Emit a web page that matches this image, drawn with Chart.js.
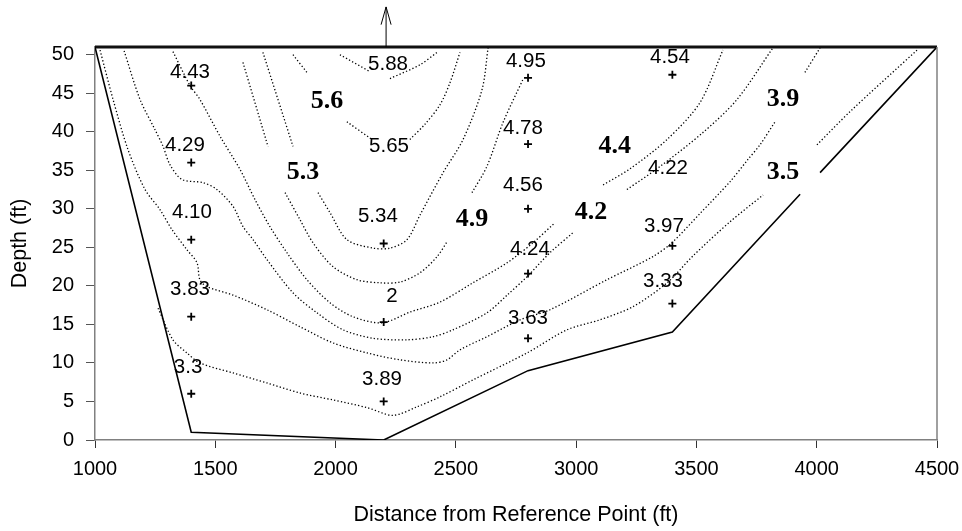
<!DOCTYPE html>
<html><head><meta charset="utf-8">
<script src="https://cdn.jsdelivr.net/npm/chart.js@4"></script>
<style>html,body{margin:0;padding:0;background:#fff}#wrap{width:962px;height:531px}</style>
</head><body><div id="wrap"><canvas id="c" width="962" height="531"></canvas></div>
<script>
const xTicks = [1000,1500,2000,2500,3000,3500,4000,4500];
const yTicks = [0,5,10,15,20,25,30,35,40,45,50];

// channel cross-section boundary (distance, depth)
const boundary = [[1000,51],[1400,1],[2200,0],[2800,9],[3400,14],[3931,31.9],null,[4014,34.7],[4500,51]];
const surface = [[1000,51],[4500,51]];

// contour lines (distance, depth); null = break under a label
const contourA = [[1021,50.6],[1075,44.2],[1137,37.7],[1208,32.5],[1270,29.9],[1320,27.3],[1382,24.7],[1424,23.0],[1436,20.8],[1466,19.9],[1574,18.8],[1715,16.9],[1852,14.7],[1989,12.6],[2131,11.3],[2268,10.4],[2405,10.0],[2463,10.4],[2517,11.7],[2629,13.4],[2767,15.6],[2891,16.9],[3128,20.8],[3319,23.8],[3398,25.6],[3515,29.4],[3639,33.5],[3714,36.4],[3764,38.3],[3827,41.3],null,[3951,47.7],[4014,50.9]];
const contourB = [[1121,50.5],[1187,44.2],[1249,40.3],[1283,38.1],[1312,35.7],[1362,33.8],[1449,33.4],[1507,32.5],[1574,30.3],[1615,27.7],[1657,26.0],[1715,23.4],[1823,19.1],[1923,16.5],[2031,14.3],[2156,13.2],[2297,13.0],[2405,13.4],[2488,14.3],[2629,16.5],[2713,18.8],[2796,21.2],[2891,24.3],[2987,26.9],null,[3211,32.5],[3349,35.5],[3527,39.9],[3669,44.2],[3818,50.9]];
const contourC = [[1324,50.4],[1395,46.0],[1436,44.2],[1520,39.4],[1603,35.1],[1665,31.2],[1727,27.7],[1798,24.3],[1881,20.8],[1977,17.8],[2072,16.0],[2193,15.2],[2309,16.6],[2434,17.9],[2571,20.4],[2713,23.0],[2821,25.6],[2912,28.2],null,[3112,33.1],[3224,35.2],[3378,39.0],[3515,43.8],[3610,50.6]];
const contourE = [[1615,49.0],[1719,38.1],null,[1790,32.1],[1852,28.6],[1906,25.6],[1989,22.5],[2089,20.8],[2185,20.4],[2268,20.5],[2351,21.7],[2422,23.8],[2463,25.7],null,[2567,32.1],[2629,35.5],[2696,41.2],[2779,46.8]];
const contourF = [[1698,50.3],[1823,38.1],null,[1927,32.1],[1977,29.5],[2047,26.0],[2156,24.9],[2226,24.9],[2297,26.0],[2351,29.2],[2447,34.7],[2530,39.0],[2609,45.5],[2634,50.9]];
const contourG = [[1823,50.0],[1881,47.7],null,[2047,41.3],[2151,39.0],null,[2309,39.0],[2372,41.0],[2434,43.5],[2476,46.4],[2517,50.3]];
const contourH = [[2018,50.0],[2143,47.8],null,[2226,46.9],[2351,48.7],[2422,50.3]];
const contourL = [[1262,17.1],[1324,13.0],[1382,11.3],[1436,10.0],[1574,8.7],[1715,7.4],[1852,6.1],[1989,5.2],[2131,4.2],[2239,3.2],[2338,4.3],[2434,5.6],[2571,7.8],[2796,11.3],[2962,14.3],[3099,15.6],[3236,17.3],[3378,20.4],[3486,23.9],[3639,28.3],[3777,31.8],null,[4001,38.3],[4138,42.6],[4417,50.6]];

// sampling points
const sampleX = [1400,1400,1400,1400,1400,2200,2200,2200,2800,2800,2800,2800,2800,3400,3400,3400];
const sampleY = [46,36,26,16,6,25.5,15.3,5,47,38.4,30,21.6,13.2,47.4,25.2,17.7];

// measured value labels
const valueLabelText = ['4.43','4.29','4.10','3.83','3.3','5.88','5.65','5.34','2','3.89','4.95','4.78','4.56','4.24','3.63','4.54','4.22','3.97','3.33'];
const valueLabelX = [1395,1374,1403,1395,1387,2218,2222,2176,2234,2193,2791,2779,2779,2808,2800,3390,3382,3365,3361];
const valueLabelY = [47.7,38.3,29.6,19.5,9.4,48.8,38.1,29.0,18.6,7.9,49.1,40.5,33.0,24.7,15.8,49.7,35.2,27.7,20.6];

// contour level labels
const levelText = ['5.6','5.3','4.9','4.2','4.4','3.9','3.5'];
const levelX = [1964,1865,2567,3062,3161,3860,3860];
const levelY = [44.0,34.8,28.6,29.6,38.1,44.2,34.8];

// arrow (reference point) location
const arrowX = 2210, arrowBase = 51, arrowTip = 56.2, arrowHead = 53.9;

const sans = '"Liberation Sans", Arial, sans-serif';
const serif = '"Liberation Serif", "Times New Roman", serif';

const toPts = arr => { let lx = 0; return arr.map(p => { if (p) { lx = p[0]; return {x:p[0], y:p[1]}; } return {x:lx, y:null}; }); };

const dotted = (arr) => ({data: toPts(arr), showLine: true, pointRadius: 0, borderColor: '#000', borderWidth: 1.3, borderDash: [1.3, 2.2], tension: 0.3, spanGaps: false, fill: false});

const datasets = [
  dotted(contourA), dotted(contourB), dotted(contourC), dotted(contourE), dotted(contourF), dotted(contourG), dotted(contourH), dotted(contourL),
  {data: toPts(boundary), showLine: true, pointRadius: 0, borderColor: '#000', borderWidth: 1.6, tension: 0, spanGaps: false},
  {data: toPts(surface), showLine: true, pointRadius: 0, borderColor: '#111', borderWidth: 3, clip: false},
  {data: sampleX.map((x,i)=>({x, y: sampleY[i]})), showLine: false, pointStyle: 'cross', pointRadius: 4, borderColor: '#000', borderWidth: 1.8}
];

const annot = {
  id: 'annot',
  afterDatasetsDraw(chart) {
    const {ctx, scales: {x, y}, chartArea} = chart;
    ctx.save();
    ctx.strokeStyle = '#808080'; ctx.lineWidth = 1.5;
    ctx.beginPath(); ctx.moveTo(chartArea.right, chartArea.top); ctx.lineTo(chartArea.right, chartArea.bottom); ctx.stroke();
    const ax = x.getPixelForValue(arrowX);
    const yb = y.getPixelForValue(arrowBase), yt = y.getPixelForValue(arrowTip), yh = y.getPixelForValue(arrowHead);
    ctx.strokeStyle = '#000'; ctx.lineWidth = 1;
    ctx.beginPath(); ctx.moveTo(ax, yb); ctx.lineTo(ax, yt); ctx.moveTo(ax-5, yh); ctx.lineTo(ax, yt); ctx.lineTo(ax+5, yh); ctx.stroke();
    ctx.fillStyle = '#000'; ctx.textAlign = 'center'; ctx.textBaseline = 'middle';
    ctx.font = '20.5px ' + sans;
    valueLabelText.forEach((t,i) => ctx.fillText(t, x.getPixelForValue(valueLabelX[i]), y.getPixelForValue(valueLabelY[i])));
    ctx.font = 'bold 26px ' + serif;
    levelText.forEach((t,i) => ctx.fillText(t, x.getPixelForValue(levelX[i]), y.getPixelForValue(levelY[i])));
    ctx.restore();
  }
};

new Chart(document.getElementById('c'), {
  type: 'scatter',
  data: {datasets},
  options: {
    responsive: false, animation: false, devicePixelRatio: 1,
    layout: {padding: {top: 47, right: 25, left: 0, bottom: 0}},
    plugins: {legend: {display: false}, tooltip: {enabled: false}},
    scales: {
      x: {
        type: 'linear', min: 1000, max: 4500,
        afterBuildTicks: s => { s.ticks = xTicks.map(v => ({value: v})); },
        afterFit: s => { s.height = 91; s.paddingLeft = 0; s.paddingRight = 0; },
        ticks: {color: '#000', font: {family: sans, size: 20}, padding: 9, maxRotation: 0, callback: v => String(v)},
        grid: {display: true, drawOnChartArea: false, drawTicks: true, tickLength: 8, tickColor: '#333', tickWidth: 1},
        border: {display: true, color: '#808080', width: 1.5},
        title: {display: true, text: 'Distance from Reference Point (ft)', color: '#000', font: {family: sans, size: 21.5}, padding: {top: 0, bottom: 3}}
      },
      y: {
        type: 'linear', min: 0, max: 51,
        afterBuildTicks: s => { s.ticks = yTicks.map(v => ({value: v})); },
        afterFit: s => { s.width = 95; s.paddingTop = 0; s.paddingBottom = 0; },
        ticks: {color: '#000', font: {family: sans, size: 20}, padding: 12, callback: v => String(v)},
        grid: {display: true, drawOnChartArea: false, drawTicks: true, tickLength: 9, tickColor: '#555', tickWidth: 1},
        border: {display: true, color: '#808080', width: 1.5},
        title: {display: true, text: 'Depth (ft)', color: '#000', font: {family: sans, size: 21.5}, padding: {top: 7, bottom: 0}}
      }
    }
  },
  plugins: [annot]
});
</script></body></html>
